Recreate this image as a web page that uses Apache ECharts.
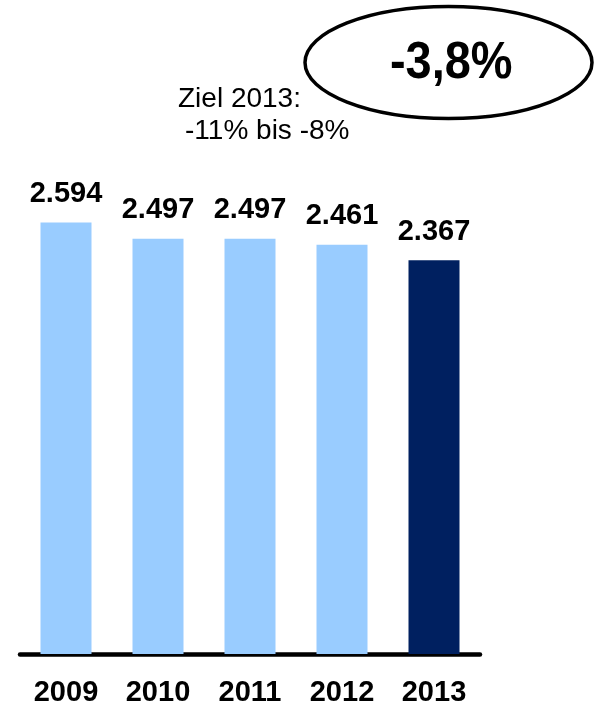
<!DOCTYPE html>
<html>
<head>
<meta charset="utf-8">
<script src="https://cdn.jsdelivr.net/npm/echarts@6/dist/echarts.min.js"></script>
<style>
  html, body { margin: 0; padding: 0; background: #fff; }
  #chart { width: 595px; height: 707px; }
</style>
</head>
<body>
<div id="chart"></div>
<script>
// Jahreswerte
const years = ['2009', '2010', '2011', '2012', '2013'];
const values = [2594, 2497, 2497, 2461, 2367];
const valueLabels = ['2.594', '2.497', '2.497', '2.461', '2.367'];
const changeText = '-3,8%';
const targetLines = ['Ziel 2013:', '-11% bis -8%'];

const lightBlue = '#99CCFF';
const navy = '#002060';
const font = '"Liberation Sans", Arial, sans-serif';

const chart = echarts.init(document.getElementById('chart'));

chart.setOption({
  animation: false,
  grid: { left: 20, right: 115, top: 155, bottom: 52, containLabel: false },
  xAxis: {
    type: 'category',
    data: years,
    axisLine: { show: true, lineStyle: { color: '#000', width: 4.5 } },
    axisTick: { show: false },
    axisLabel: {
      color: '#000', fontFamily: font, fontWeight: 'bold', fontSize: 29, margin: 24
    }
  },
  yAxis: {
    type: 'value', min: 0, max: 3000,
    show: false, splitLine: { show: false }
  },
  series: [{
    type: 'bar',
    data: values.map((v, i) => ({
      value: v,
      itemStyle: { color: i === values.length - 1 ? navy : lightBlue }
    })),
    barWidth: 51,
    label: {
      show: true, position: 'top', distance: 14,
      color: '#000', fontFamily: font, fontWeight: 'bold', fontSize: 29,
      formatter: p => valueLabels[p.dataIndex]
    }
  }],
  graphic: [
    {
      type: 'ellipse',
      shape: { cx: 448.5, cy: 62.5, rx: 143.5, ry: 56 },
      style: { fill: 'none', stroke: '#000', lineWidth: 3.5 }
    },
    {
      type: 'text', x: 390, y: 64, scaleX: 0.92,
      style: {
        text: changeText, fill: '#000', font: 'bold 51px ' + font,
        align: 'left', verticalAlign: 'middle'
      }
    },
    {
      type: 'text', x: 178, y: 99,
      style: {
        text: targetLines[0], fill: '#000', font: '28px ' + font,
        align: 'left', verticalAlign: 'middle'
      }
    },
    {
      type: 'text', x: 185, y: 131,
      style: {
        text: targetLines[1], fill: '#000', font: '28px ' + font,
        align: 'left', verticalAlign: 'middle'
      }
    }
  ]
});
</script>
</body>
</html>
